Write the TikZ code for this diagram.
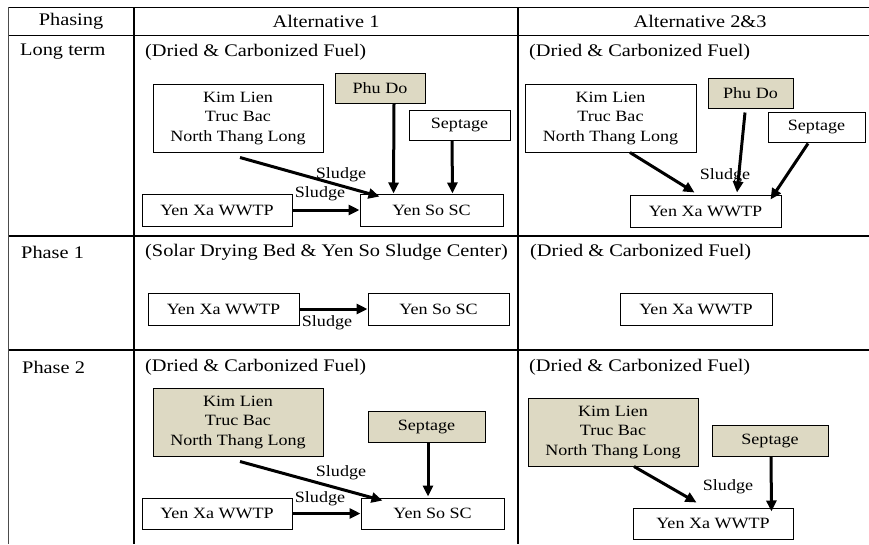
\documentclass[tikz,border=0pt]{standalone}
\usepackage{fontspec}
\setmainfont[FakeStretch=1.15]{Liberation Serif}
\usepackage{tikz}
\usetikzlibrary{arrows.meta,calc,positioning}
\definecolor{tanfill}{HTML}{DDD9C3}
\newcommand{\cellfont}{\fontsize{17.7}{21}\selectfont}
\newcommand{\flowfont}{\fontsize{15.7}{19.5}\selectfont}

\begin{document}
\begin{tikzpicture}[x=1pt,y=-1pt,>={Triangle[length=11pt,width=10pt]},
  box/.style={draw,line width=1pt,fill=white,align=center,font=\flowfont,inner sep=0pt},
  tanbox/.style={box,fill=tanfill},
  flow/.style={->,line width=3pt},
  cell/.style={anchor=west,inner sep=0pt,font=\cellfont},
  lbl/.style={inner sep=0pt,font=\flowfont}]
  \useasboundingbox (0,0) rectangle (869,544);
  % table grid
  \draw[line width=1pt] (8,7) -- (869,7);
  \draw[line width=1pt] (8,35) -- (869,35);
  \draw[line width=1.5pt] (8,236) -- (869,236);
  \draw[line width=1.5pt] (8,350) -- (869,350);
  \draw[line width=1pt,black!70] (8,7) -- (8,544);
  \draw[line width=1.5pt] (134,7) -- (134,544);
  \draw[line width=1.5pt] (518,7) -- (518,544);
  % header
  \node[font=\cellfont] (hphase) at (71,21) {Phasing};
  \node[font=\cellfont] (halt1) at (326,21) {Alternative 1};
  \node[font=\cellfont] (halt2) at (700,21) {Alternative 2\&3};
  % row titles
  \node[cell] (rlong) at (20,52) {Long term};
  \node[cell] (rph1) at (21,252) {Phase 1};
  \node[cell] (rph2) at (22,367) {Phase 2};
  \node[cell] (tlong1) at (145,52) {(Dried \& Carbonized Fuel)};
  \node[cell] (tlong2) at (529,52) {(Dried \& Carbonized Fuel)};
  \node[cell] (tph1a) at (145,252) {(Solar Drying Bed \& Yen So Sludge Center)};
  \node[cell] (tph1b) at (530,252) {(Dried \& Carbonized Fuel)};
  \node[cell] (tph2a) at (145,367) {(Dried \& Carbonized Fuel)};
  \node[cell] (tph2b) at (529,367) {(Dried \& Carbonized Fuel)};

  % long term, alternative 1
  \node[box,minimum width=170pt,minimum height=68pt] (kl1) at (238,118) {Kim Lien\\Truc Bac\\North Thang Long};
  \node[tanbox,minimum width=90pt,minimum height=30pt] (pd1) at (380,88) {Phu Do};
  \node[box,minimum width=101pt,minimum height=30pt] (sp1) at (459.5,125) {Septage};
  \node[box,minimum width=150pt,minimum height=32pt] (yx1) at (217,210) {Yen Xa WWTP};
  \node[box,minimum width=143pt,minimum height=32pt] (ys1) at (431.5,210) {Yen So SC};
  \draw[flow] ($(kl1.south)+(2,5)$) -- ($(ys1.north west)+(20,3)$);
  \draw[flow] ($(pd1.south)+(14,0)$) -- ($(ys1.north west)+(34,0)$);
  \draw[flow] ($(sp1.south)+(-7.5,0)$) -- ($(ys1.north east)+(-51,0)$);
  \draw[flow] (yx1) -- (ys1);
  \node[lbl] (sl1a) at (341,175) {Sludge};
  \node[lbl] (sl1b) at (320,194) {Sludge};

  % long term, alternative 2&3
  \node[box,minimum width=171pt,minimum height=68pt] (kl2) at (610.5,118) {Kim Lien\\Truc Bac\\North Thang Long};
  \node[tanbox,minimum width=85pt,minimum height=30pt] (pd2) at (750.5,93) {Phu Do};
  \node[box,minimum width=97pt,minimum height=30pt] (sp2) at (816.5,127) {Septage};
  \node[box,minimum width=151pt,minimum height=32pt] (yx2) at (705.5,211) {Yen Xa WWTP};
  \draw[flow] ($(kl2.south)+(19.5,0)$) -- ($(yx2.north west)+(65,-2)$);
  \draw[flow] ($(pd2.south)+(-5.5,4)$) -- ($(yx2.north)+(31.5,-2)$);
  \draw[flow] ($(sp2.south)+(-8.5,1)$) -- ($(yx2.north east)+(-11,5)$);
  \node[lbl] (sl2) at (725,176) {Sludge};

  % phase 1
  \node[box,minimum width=151pt,minimum height=32pt] (yx3) at (223.5,309) {Yen Xa WWTP};
  \node[box,minimum width=141pt,minimum height=32pt] (ys3) at (438.5,309) {Yen So SC};
  \draw[flow] (yx3) -- (ys3);
  \node[lbl] (sl3) at (327,323) {Sludge};
  \node[box,minimum width=152pt,minimum height=32pt] (yx4) at (696,309) {Yen Xa WWTP};

  % phase 2, alternative 1
  \node[tanbox,minimum width=170pt,minimum height=68pt] (kl5) at (238,422) {Kim Lien\\Truc Bac\\North Thang Long};
  \node[tanbox,minimum width=117pt,minimum height=31pt] (sp5) at (426.5,426.5) {Septage};
  \node[box,minimum width=150pt,minimum height=31pt] (yx5) at (217,513.5) {Yen Xa WWTP};
  \node[box,minimum width=143pt,minimum height=31pt] (ys5) at (432.5,513.5) {Yen So SC};
  \draw[flow] ($(kl5.south)+(2,5)$) -- ($(ys5.north west)+(22,3)$);
  \draw[flow] ($(sp5.south)+(1.5,0)$) -- ($(ys5.north)+(-4.5,-1)$);
  \draw[flow] (yx5) -- (ys5);
  \node[lbl] (sl5a) at (341,473) {Sludge};
  \node[lbl] (sl5b) at (320,499) {Sludge};

  % phase 2, alternative 2&3
  \node[tanbox,minimum width=170pt,minimum height=68pt] (kl6) at (613,432) {Kim Lien\\Truc Bac\\North Thang Long};
  \node[tanbox,minimum width=116pt,minimum height=31pt] (sp6) at (770,440.5) {Septage};
  \node[box,minimum width=160pt,minimum height=31pt] (yx6) at (713,523.5) {Yen Xa WWTP};
  \draw[flow] ($(kl6.south)+(21,0)$) -- ($(yx6.north west)+(64,-5)$);
  \draw[flow] ($(sp6.south)+(1,0)$) -- ($(yx6.north east)+(-22,4)$);
  \node[lbl] (sl6) at (728,487) {Sludge};
\end{tikzpicture}
\end{document}
